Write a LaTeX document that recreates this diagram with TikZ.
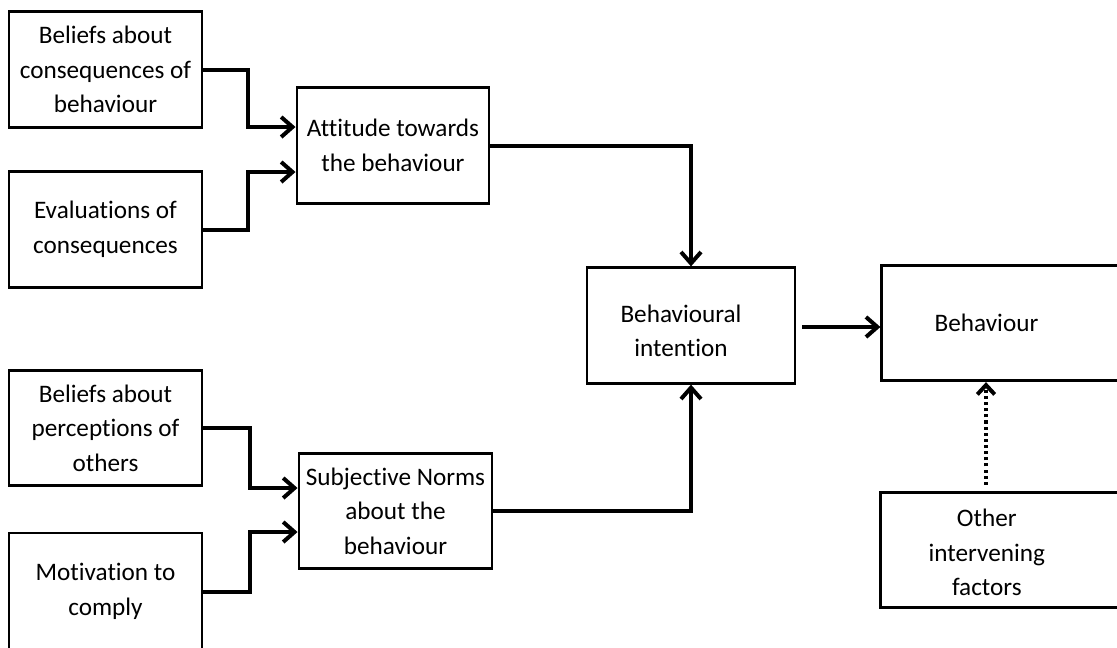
\documentclass[tikz,border=0pt]{standalone}
\usepackage{fontspec}
\setmainfont{Carlito}[Ligatures={NoCommon,NoContextual}]
\usetikzlibrary{arrows.meta,calc}
\begin{document}
\begin{tikzpicture}[x=0.75pt,y=-0.75pt,
  box/.style={draw=black,line width=2.2pt,rectangle,inner sep=0pt,align=center,
    minimum height=86.5pt,font=\fontsize{18.9}{25.9}\selectfont},
  arr/.style={line width=3pt,-{Straight Barb[length=8.5pt,width=15pt,line width=3pt]}},
  dotarr/.style={line width=3pt,dash pattern=on 2.3pt off 2.3pt,-{Straight Barb[length=7pt,width=13pt,line width=3pt]}},
  lbl/.style={font=\fontsize{18.9}{25.9}\selectfont,align=center}]
\useasboundingbox (0,0) rectangle (1117,647);
\clip (0,0) rectangle (1117,647);

\node[box,minimum width=144.75pt] (bcons) at (105.5,69.5) {Beliefs about\\consequences of\\behaviour};
\node[box,minimum width=144.75pt] (eval) at (105.5,229.5) {Evaluations of\\consequences};
\node[box,minimum width=144pt] (att) at (393,145.5) {Attitude towards\\the behaviour};
\node[box,minimum width=144.75pt] (bperc) at (105.5,428) {Beliefs about\\perceptions of\\others};
\node[box,minimum width=144.75pt,minimum height=87.75pt] (motiv) at (105.5,591.5) {Motivation to\\comply};
\node[box,minimum width=144.75pt] (sn) at (395.5,511) {Subjective Norms\\about the\\behaviour};
\node[box,minimum width=156pt,
  label={[lbl,xshift=-7.5pt,yshift=-4pt]center:Behavioural\\intention}] (bi) at (691,325.5) {};
\node[box,minimum width=190pt,
  label={[lbl,xshift=-16.5pt]center:Behaviour}] (beh) at (1008.5,323) {};
\node[box,minimum width=191pt,
  label={[lbl,xshift=-15.5pt,yshift=-2pt]center:Other\\intervening\\factors}] (other) at (1007.5,550) {};

\draw[arr] (bcons.east) -- (248,69.5) |- ($(att.west)+(0,-18.5)$);
\draw[arr] (eval.east) -- (248,229.5) |- ($(att.west)+(0,26.5)$);
\draw[arr] (att.east) -| (bi.north);
\draw[arr] (bperc.east) -- (250,428) |- ($(sn.west)+(0,-23)$);
\draw[arr] (motiv.east) -- (250,591.5) |- ($(sn.west)+(0,21)$);
\draw[arr] (sn.east) -| (bi.south);
\draw[arr,shorten <=4.5pt] ($(bi.east)+(0,1.5)$) -- ($(beh.west)+(0,4)$);
\draw[dotarr,shorten <=4.5pt] ($(other.north)+(-21.5,0)$) -- ($(beh.south)+(-22.5,0)$);
\end{tikzpicture}
\end{document}
